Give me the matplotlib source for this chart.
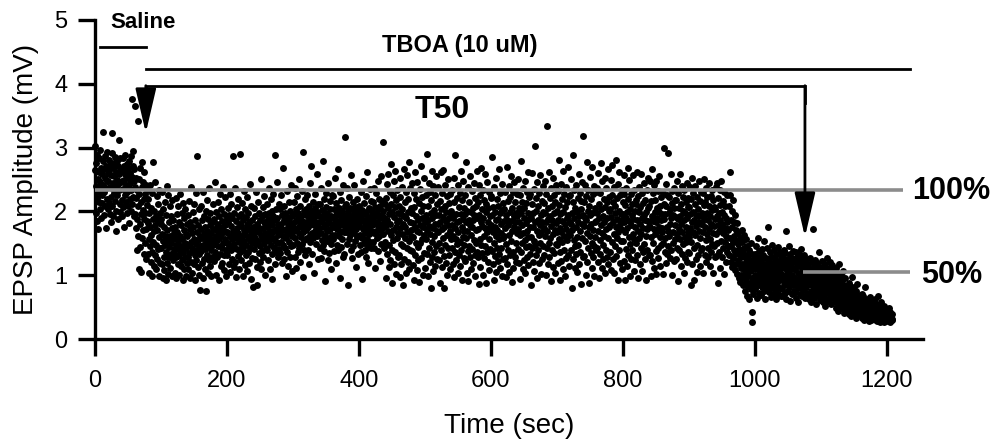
import numpy as np
import matplotlib
matplotlib.use("Agg")
import matplotlib.pyplot as plt

plt.rcParams['font.family'] = ['Liberation Sans', 'DejaVu Sans']

# one sweep every 0.5 s; amplitudes, in 0.01 mV
sweep_interval = 0.5

# 0-80 s (saline)
amp_saline = [
    302,265,240,198,276,221,185,289,250,231,172,262,284,215,246,203,297,238,268,190,225,258,213,279,324,242,195,266,230,287,208,252,174,271,236,219,293,247,204,260,
    248,281,213,265,196,239,273,222,257,184,291,236,323,209,268,244,192,276,229,255,217,286,238,170,262,201,249,279,226,243,188,271,312,234,258,211,283,199,246,265,
    264,218,247,192,283,235,207,271,249,176,258,226,289,214,241,263,197,275,230,252,208,268,236,182,279,244,219,260,201,287,233,254,376,212,271,223,295,248,193,266,
    238,196,365,221,252,174,140,233,188,209,342,162,250,109,227,181,268,144,215,105,196,239,158,277,202,171,246,134,219,188,262,151,228,197,173,241,126,210,185,233,
]

# 80-440 s (TBOA, early)
amp_tboa_early = [
    182,134,219,157,103,198,241,146,175,121,206,163,137,229,98,188,277,152,115,201,169,132,246,178,109,193,148,224,126,171,212,141,185,99,234,160,119,197,143,180,
    142,188,117,165,231,96,153,204,129,176,108,214,147,162,93,195,136,240,119,171,155,102,226,144,183,128,161,209,112,150,192,133,174,98,218,157,124,186,141,166,
    137,176,104,159,221,128,148,95,196,142,168,117,209,153,132,184,101,162,227,139,115,178,146,198,124,157,92,213,136,171,109,189,150,129,204,98,164,143,181,119,
    161,128,194,109,147,216,135,172,96,183,152,121,238,143,166,104,199,138,175,117,157,211,131,92,186,149,124,229,168,140,287,113,178,155,101,203,134,162,77,145,
    173,138,209,119,158,186,95,147,231,164,126,192,141,175,110,201,76,153,218,132,169,145,104,188,160,124,236,151,179,114,197,139,166,98,183,156,129,212,147,172,
    151,188,122,173,246,137,162,101,199,155,181,128,214,146,168,93,192,159,134,227,176,115,163,204,142,185,119,171,238,150,131,196,108,178,157,223,140,167,99,189,
    168,132,205,151,183,117,194,146,228,162,105,177,139,211,156,125,189,143,287,170,113,198,149,236,164,121,185,158,97,207,141,174,130,219,166,110,193,152,181,137,
    290,158,196,124,177,145,213,162,98,187,139,171,232,153,116,204,165,131,191,148,179,107,222,160,136,198,173,119,184,155,243,142,168,94,209,151,186,127,175,161,
    82,172,141,205,158,126,193,167,231,149,181,113,85,176,214,154,135,198,169,121,187,145,251,163,109,192,157,138,207,174,129,183,150,224,166,101,196,143,178,159,
    176,139,212,161,188,124,197,153,236,170,109,184,147,219,165,133,201,178,94,192,158,227,143,186,169,118,288,155,204,137,173,246,150,189,128,181,163,211,141,175,
    167,203,135,181,152,226,119,194,173,148,268,161,187,126,209,171,143,197,99,183,158,232,164,137,191,176,114,215,152,185,129,200,168,241,146,179,107,193,162,174,
    182,147,214,169,196,128,237,158,185,112,203,174,151,224,189,136,198,166,251,143,178,209,121,192,160,186,232,149,175,97,293,168,201,139,184,155,219,176,131,195,
    171,204,158,226,183,140,197,176,118,209,189,163,244,152,195,180,271,166,201,134,187,215,159,192,103,178,206,170,228,149,193,182,258,161,199,175,126,211,184,168,
    174,211,143,193,166,236,127,184,202,155,189,279,148,176,219,138,197,162,91,207,181,229,153,170,196,124,188,245,159,183,135,204,172,217,149,192,110,178,163,226,
    191,157,224,176,138,203,186,252,163,194,119,181,213,148,197,172,267,139,185,206,161,178,95,231,169,192,144,218,183,156,201,128,188,242,167,179,134,209,317,173,
    195,168,212,149,183,236,174,201,85,190,157,222,180,163,205,139,192,257,171,186,127,214,178,145,199,166,242,183,154,207,113,189,173,219,160,196,178,134,203,185,
    177,209,148,192,163,231,136,185,202,158,94,196,172,248,151,187,213,139,178,166,224,129,199,157,183,262,146,191,172,119,206,164,188,235,152,180,143,217,169,195,
    178,199,152,214,186,166,236,143,192,207,112,181,170,229,158,197,184,247,138,203,175,161,219,190,123,208,171,256,149,194,181,216,164,200,309,176,189,142,211,183,
]

# 440-980 s (TBOA, plateau)
amp_tboa_plateau = [
    152,221,178,96,243,187,134,205,169,258,113,196,148,230,181,124,212,163,274,140,199,87,226,171,155,248,118,191,207,136,264,175,102,218,159,184,233,128,197,166,
    209,131,186,252,97,174,223,149,196,117,238,165,203,84,181,145,267,192,126,214,158,176,104,231,189,142,257,168,121,199,219,153,278,110,184,236,139,171,205,162,
    138,197,244,116,182,160,229,93,207,175,131,262,151,193,219,108,170,246,144,186,124,213,167,89,235,179,150,201,271,127,190,157,222,101,176,208,135,253,163,189,
    183,112,226,157,194,290,133,171,209,98,186,245,142,177,121,231,165,198,80,218,152,263,129,189,174,107,240,161,202,137,181,226,115,194,256,146,169,212,125,180,
    167,238,124,195,151,216,88,183,262,139,204,172,113,229,158,191,265,130,176,80,208,147,241,185,119,199,163,224,100,178,251,143,190,132,213,170,227,109,196,156,
    201,143,179,234,118,190,161,253,97,214,174,136,289,156,196,124,221,183,149,242,103,168,207,131,185,229,152,115,196,263,140,176,218,92,188,160,247,127,205,169,
    148,196,226,122,183,159,277,104,201,170,138,239,91,187,215,146,178,256,128,199,163,110,232,176,141,206,186,119,245,155,194,132,221,98,171,209,150,264,137,190,
    215,129,172,241,86,195,156,226,113,184,268,148,203,135,177,233,101,190,162,218,127,259,174,145,199,87,211,168,137,246,183,120,205,157,230,108,192,174,141,221,
    179,224,138,195,286,117,168,207,150,92,238,176,130,199,161,252,105,186,220,143,171,123,209,188,157,266,134,197,112,229,166,181,143,243,99,202,158,213,126,185,
    162,204,127,231,174,97,195,149,269,118,187,216,140,178,105,240,163,199,131,222,185,153,255,90,206,169,137,230,112,192,176,246,128,183,214,151,198,121,227,166,
    193,141,251,172,206,119,184,226,94,163,198,137,279,151,215,178,109,237,166,189,124,205,155,248,103,182,213,144,170,231,128,197,160,262,116,188,146,223,176,134,
    227,160,189,85,212,143,260,176,120,198,154,235,107,183,302,148,201,132,221,170,95,246,187,139,208,163,119,229,178,151,257,102,194,168,216,126,183,240,145,199,
    174,213,131,248,162,197,101,228,184,143,334,169,117,205,188,150,262,128,193,221,159,91,236,177,140,209,186,113,253,164,198,135,226,171,104,215,182,149,241,167,
    201,148,232,119,186,281,157,210,92,174,196,136,243,168,123,220,185,152,264,110,199,162,228,140,181,207,98,238,173,127,215,189,155,270,131,195,166,224,114,183,
    163,226,180,140,251,80,197,171,214,126,288,155,189,233,112,206,145,176,242,134,199,160,105,221,184,147,258,118,192,170,229,137,203,86,217,158,181,246,129,194,
    318,177,130,215,190,153,242,101,186,224,166,278,120,201,142,233,175,88,209,161,195,254,135,180,219,112,270,150,197,128,228,171,145,240,99,206,183,160,231,140,
    185,237,143,198,120,260,170,212,95,189,155,229,134,276,178,204,111,166,248,148,193,126,219,184,162,252,104,207,173,140,236,190,129,214,158,267,117,200,176,222,
    137,204,178,249,108,191,226,152,272,183,125,214,164,104,238,197,146,209,280,130,175,221,158,188,93,243,167,200,139,261,181,119,226,154,196,172,233,110,187,214,
    196,153,228,122,183,257,168,93,210,141,189,236,115,199,174,268,132,219,160,185,249,98,204,149,227,178,126,195,212,140,257,165,188,106,233,157,201,176,124,218,
    150,212,186,131,262,170,96,224,159,199,238,118,181,207,143,258,165,190,107,229,174,136,213,195,149,245,126,187,218,161,199,92,234,172,140,206,185,253,131,177,
    208,132,247,175,98,216,160,193,266,123,185,229,150,172,241,111,199,164,218,138,183,247,102,206,169,190,143,232,127,199,176,255,115,208,160,186,222,148,196,168,
    174,229,151,102,212,188,300,137,196,158,243,119,208,176,133,226,170,292,145,197,223,162,127,204,181,258,140,189,213,101,232,167,194,150,236,123,206,179,218,157,
    191,126,218,165,247,143,188,91,229,172,206,139,259,157,193,114,211,180,133,240,168,200,149,223,104,186,233,160,197,127,214,176,152,244,120,190,207,168,136,221,
    160,207,135,238,174,196,84,219,152,183,252,118,199,168,229,142,187,93,211,163,240,126,194,177,147,222,105,203,184,132,248,170,192,114,216,159,181,231,139,198,
    183,142,229,167,104,210,190,250,131,176,215,155,237,120,197,164,222,143,186,128,209,172,244,114,193,157,224,136,181,202,149,233,166,104,218,177,145,207,188,129,
    204,165,238,130,192,244,151,179,88,221,169,197,136,233,112,186,210,154,247,173,128,199,181,217,142,166,230,102,195,174,152,208,121,189,162,226,137,184,171,145,
    172,146,209,131,261,158,226,120,187,145,201,113,176,152,218,127,183,140,162,108,195,133,171,118,154,137,182,102,149,124,166,96,141,117,158,89,134,112,128,101,
]

# 980-1209 s (TBOA, decline)
amp_tboa_decline = [
    152,118,171,97,136,84,163,109,142,75,128,104,157,91,121,68,146,113,83,132,99,117,62,139,88,124,107,151,79,115,27,96,42,133,86,110,71,126,94,119,
    101,134,78,117,92,146,65,109,125,84,158,97,119,72,138,103,88,129,111,69,122,95,141,81,114,99,132,76,106,153,90,118,63,127,104,86,143,98,112,80,
    175,94,121,73,108,136,87,115,66,129,101,82,148,95,119,70,111,139,89,104,77,126,97,117,62,133,92,108,85,144,99,71,122,106,80,137,93,114,68,128,
    102,79,131,94,116,67,124,98,140,85,111,72,135,91,119,63,169,103,87,126,76,113,96,145,82,108,120,59,133,97,88,114,71,127,101,84,138,93,109,75,
    96,121,74,109,88,137,65,114,92,128,80,103,58,133,89,118,71,125,99,83,141,94,110,68,122,87,104,77,131,92,115,64,119,97,81,126,90,108,72,117,
    93,71,118,86,104,62,127,89,110,76,99,58,121,84,106,69,172,95,79,115,65,102,88,124,73,97,111,55,119,83,92,68,108,80,136,90,74,113,61,98,
    88,110,66,97,79,123,58,101,84,115,70,92,52,118,81,104,63,109,87,74,127,83,96,60,112,77,93,68,120,85,99,55,106,80,72,116,89,64,102,78,
    76,98,58,87,67,112,49,91,72,104,61,83,44,96,70,118,54,88,65,79,101,57,74,48,93,66,82,52,107,69,85,41,77,62,95,55,80,47,71,63,
    62,79,47,68,53,88,39,71,56,83,44,65,36,74,51,97,42,63,55,70,48,81,38,59,66,45,76,33,57,50,86,41,61,47,69,37,54,64,43,58,
    49,63,38,55,42,71,33,58,45,67,36,51,29,60,40,82,35,53,44,57,31,48,62,37,46,28,54,41,66,34,50,39,58,30,47,43,61,32,52,38,
    43,56,34,48,37,62,30,51,39,45,28,53,35,67,41,32,49,36,44,27,55,38,46,31,58,40,33,50,29,42,36,47,26,52,39,34,44,30,41,37,
    38,45,31,41,28,36,49,33,40,27,35,43,30,37,34,29,39,32,
]

# reference levels (mV) and drug periods (s)
level_100 = 2.34
level_50 = 1.05
saline_period = (8, 77)
tboa_period = (78, 1235)
t50_period = (77, 1076)

xticks = [0, 200, 400, 600, 800, 1000, 1200]
yticks = [0, 1, 2, 3, 4, 5]

amp = np.array(amp_saline + amp_tboa_early + amp_tboa_plateau + amp_tboa_decline) / 100.0
t = np.arange(len(amp)) * sweep_interval

fig = plt.figure(figsize=(9.98, 4.45), dpi=100)
ax = fig.add_axes([0.0952, 0.2382, 0.8297, 0.7169])

ax.plot(t, amp, 'o', ms=5.0, mew=0, color='black', clip_on=False, zorder=2)

# 100% / 50% lines
grey = '#8c8c8c'
ax.plot([0, 1224], [level_100, level_100], color=grey, lw=2.6,
        solid_capstyle='butt', clip_on=False, zorder=3)
ax.plot([t50_period[1] - 3, 1235], [level_50, level_50], color=grey, lw=2.6,
        solid_capstyle='butt', clip_on=False, zorder=3)
ax.text(1238, 2.19, '100%', fontsize=22, fontweight='bold', ha='left', va='baseline')
ax.text(1252, 0.88, '50%', fontsize=22, fontweight='bold', ha='left', va='baseline')

# drug bars
ax.plot(saline_period, [4.58, 4.58], color='black', lw=2, clip_on=False)
ax.text(73, 4.875, 'Saline', fontsize=16, fontweight='bold', ha='center', va='baseline')
ax.plot(tboa_period, [4.23, 4.23], color='black', lw=2, clip_on=False)
ax.text(553, 4.50, 'TBOA (10 uM)', fontsize=17, fontweight='bold', ha='center', va='baseline')

# T50 bracket with arrows
ax.plot([t50_period[0], t50_period[0], t50_period[1], t50_period[1]],
        [3.7, 3.97, 3.97, 3.7], color='black', lw=2, solid_joinstyle='miter',
        clip_on=False, zorder=4)
arrow = dict(arrowstyle='-|>,head_length=1.37,head_width=0.32', mutation_scale=20,
             lw=2, color='black', shrinkA=0, shrinkB=0)
ax.annotate('', xy=(t50_period[0], 3.23), xytext=(t50_period[0], 3.97),
            arrowprops=arrow, annotation_clip=False, zorder=4)
ax.annotate('', xy=(t50_period[1], 1.60), xytext=(t50_period[1], 3.97),
            arrowprops=arrow, annotation_clip=False, zorder=4)
ax.text(526, 3.46, 'T50', fontsize=23, fontweight='bold', ha='center', va='baseline')

ax.set_xlim(0, 1255)
ax.set_ylim(0, 5)
ax.set_xticks(xticks)
ax.set_yticks(yticks)
for side in ['top', 'right']:
    ax.spines[side].set_visible(False)
for side in ['left', 'bottom']:
    ax.spines[side].set_linewidth(2.4)
ax.tick_params(direction='out', length=12, width=2.4, labelsize=17)
ax.tick_params(axis='x', pad=10)
ax.tick_params(axis='y', pad=8)

ax.set_xlabel('Time (sec)', fontsize=20)
ax.set_ylabel('EPSP Amplitude (mV)', fontsize=20)
ax.xaxis.set_label_coords(0.5, -0.233)
ax.yaxis.set_label_coords(-0.0676, 0.5)

fig.savefig('out.png', dpi=100)
